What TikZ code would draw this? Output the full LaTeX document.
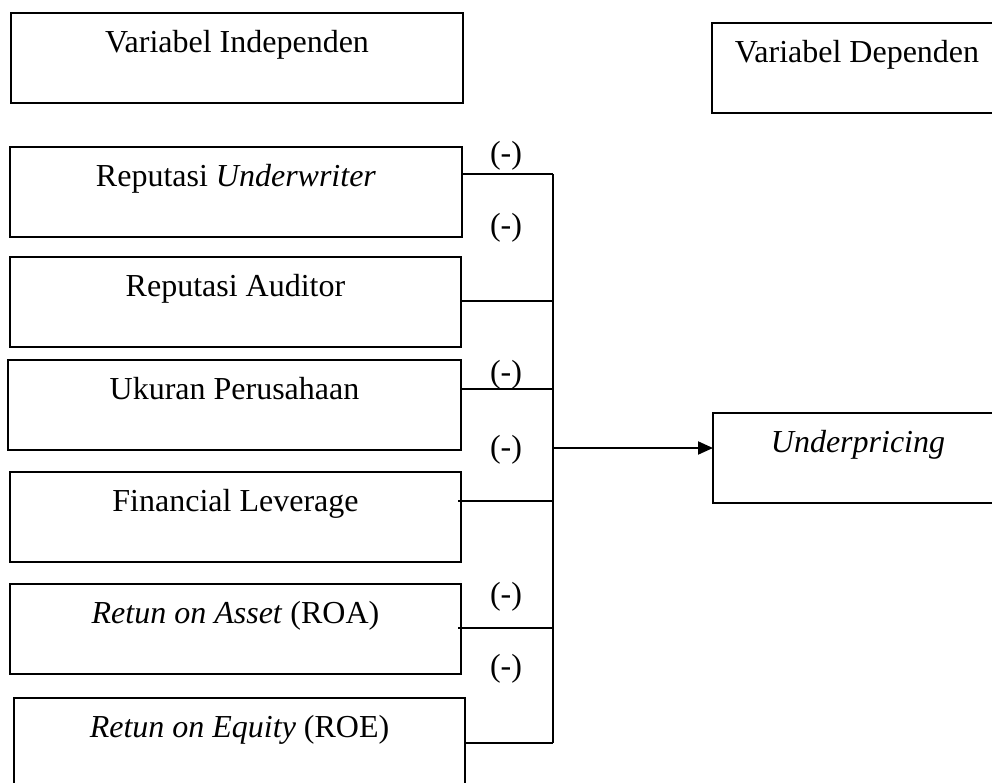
\documentclass[tikz,border=0pt]{standalone}
\usepackage{fontspec}
\setmainfont{Liberation Serif}
\usetikzlibrary{arrows.meta}
\begin{document}
\begin{tikzpicture}[x=1pt,y=-1pt,
  vbox/.style={draw, line width=2pt, rectangle, anchor=north west, outer sep=0pt,
    inner xsep=0pt, inner ysep=0pt, text height=39pt, text depth=51pt,
    font=\fontsize{32}{38}\selectfont},
  conn/.style={line width=2pt},
  sign/.style={anchor=base, inner sep=0pt, font=\fontsize{32}{38}\selectfont}]
\useasboundingbox (0,0) rectangle (992,782);
% boxes
\node[vbox, minimum width=452pt] (vi) at (11,13) {Variabel Independen};
\node[vbox, minimum width=290pt] (vd) at (712,23) {Variabel Dependen};
\node[vbox, minimum width=452pt] (uw) at (10,147) {Reputasi \textit{Underwriter}};
\node[vbox, minimum width=451pt] (au) at (10,257) {Reputasi Auditor};
\node[vbox, minimum width=453pt] (uk) at (8,360) {Ukuran Perusahaan};
\node[vbox, minimum width=451pt] (fl) at (10,472) {Financial Leverage};
\node[vbox, minimum width=451pt] (roa) at (10,584) {\textit{Retun on Asset} (ROA)};
\node[vbox, minimum width=451pt] (roe) at (14,698) {\textit{Retun on Equity} (ROE)};
\node[vbox, minimum width=290pt] (up) at (713,413) {\textit{Underpricing}};
% bus coordinates
\coordinate (b1) at (553,174);
\coordinate (b2) at (553,301);
\coordinate (b3) at (553,389);
\coordinate (b4) at (553,501);
\coordinate (b5) at (553,628);
\coordinate (b6) at (553,743);
\coordinate (bA) at (553,448);
% connectors
\draw[conn] (uw.east |- b1) -- (b1);
\draw[conn] (au.east |- b2) -- (b2);
\draw[conn] (uk.east |- b3) -- (b3);
\draw[conn] ([xshift=-3pt]fl.east |- b4) -- (b4);
\draw[conn] ([xshift=-3pt]roa.east |- b5) -- (b5);
\draw[conn] (roe.east |- b6) -- (b6);
\draw[conn] (b1) -- (b6);
\draw[conn, -{Triangle[length=15pt,width=13pt]}] (bA) -- (up.west |- bA);
% signs
\node[sign] (m1) at (506,163) {(-)};
\node[sign] (m2) at (506,235) {(-)};
\node[sign] (m3) at (506,382) {(-)};
\node[sign] (m4) at (506,457) {(-)};
\node[sign] (m5) at (506,604) {(-)};
\node[sign] (m6) at (506,676) {(-)};
\end{tikzpicture}
\end{document}
